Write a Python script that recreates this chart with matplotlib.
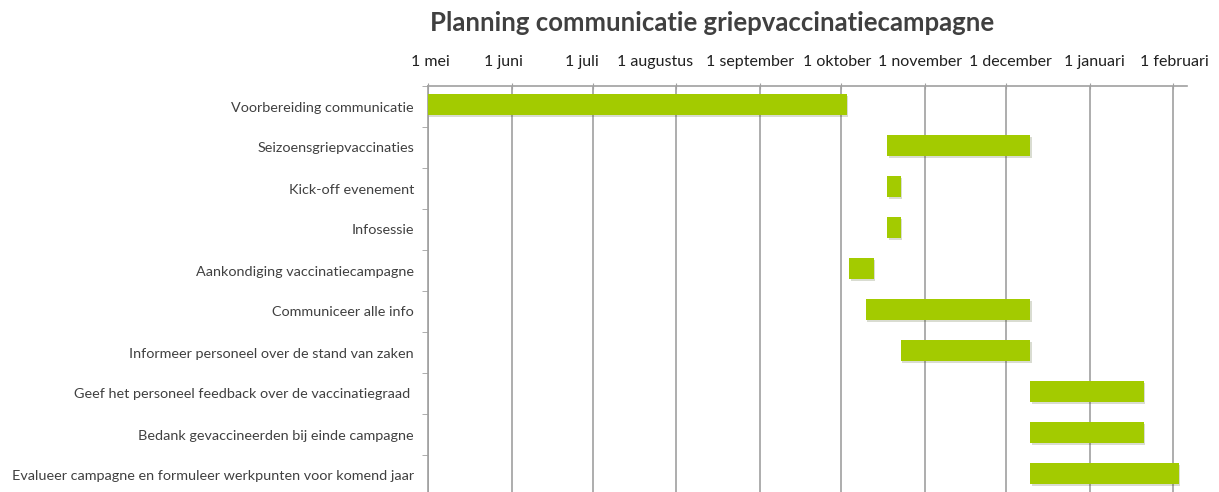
from datetime import date

import matplotlib

matplotlib.use("Agg")
import matplotlib.dates as mdates
import matplotlib.patheffects as pe
import matplotlib.pyplot as plt
import matplotlib.transforms as mtransforms
import numpy as np

# activities and their planned periods
tasks = [
    "Voorbereiding communicatie",
    "Seizoensgriepvaccinaties",
    "Kick-off evenement",
    "Infosessie",
    "Aankondiging vaccinatiecampagne",
    "Communiceer alle info",
    "Informeer personeel over de stand van zaken",
    "Geef het personeel feedback over de vaccinatiegraad ",
    "Bedank gevaccineerden bij einde campagne",
    "Evalueer campagne en formuleer werkpunten voor komend jaar",
]
starts = [
    "2012-05-01", "2012-10-18", "2012-10-18", "2012-10-18", "2012-10-04",
    "2012-10-10", "2012-10-23", "2012-12-10", "2012-12-10", "2012-12-10",
]
ends = [
    "2012-10-03", "2012-12-10", "2012-10-23", "2012-10-23", "2012-10-13",
    "2012-12-10", "2012-12-10", "2013-01-21", "2013-01-21", "2013-02-03",
]
month_labels = [
    "1 mei", "1 juni", "1 juli", "1 augustus", "1 september",
    "1 oktober", "1 november", "1 december", "1 januari", "1 februari",
]
month_starts = [
    "2012-05-01", "2012-06-01", "2012-07-01", "2012-08-01", "2012-09-01",
    "2012-10-01", "2012-11-01", "2012-12-01", "2013-01-01", "2013-02-01",
]

BAR = "#a3cb00"
GRID = "#a0a0a0"
TEXT = "#404040"

plt.rcParams["font.family"] = ["Lato", "DejaVu Sans"]

start_num = mdates.datestr2num(starts)
end_num = mdates.datestr2num(ends)
ticks = mdates.datestr2num(month_starts)
y = np.arange(len(tasks))

W, H = 1219, 492
fig = plt.figure(figsize=(W / 100, H / 100), dpi=100)
# plot area: x 428..1187 px, y 86..496 px (runs just past the bottom edge)
ax = fig.add_axes([428 / W, -4 / H, (1187 - 428) / W, (496 - 86) / H])

bars = ax.barh(y - 0.05, end_num - start_num, left=start_num, height=0.5,
               color=BAR, edgecolor="none", zorder=3)
for b in bars:
    b.set_path_effects([pe.SimplePatchShadow(offset=(1, -1.5), alpha=0.18),
                        pe.Normal()])

ax.set_xlim(ticks[0], mdates.date2num(date(2013, 2, 6)))
ax.set_ylim(len(tasks) - 0.5, -0.5)

ax.xaxis.tick_top()
ax.set_xticks(ticks)
ax.set_xticklabels(month_labels, fontsize=11.5, color="#202020")
ax.tick_params(axis="x", length=5, color=GRID, pad=10, direction="inout")
ax.grid(axis="x", color=GRID, linewidth=1.2, zorder=0)

# the month labels in the original sit a little off their gridlines
nudge_px = [2, -8, -11, -21, -10, -4, -5, 4, 5, 1]
for lab, dx in zip(ax.get_xticklabels(), nudge_px):
    lab.set_transform(lab.get_transform()
                      + mtransforms.ScaledTranslation(dx / 100, 0, fig.dpi_scale_trans))

ax.set_yticks(y)
ax.set_yticklabels(tasks, fontsize=10.4, color=TEXT)
ax.set_yticks(np.arange(len(tasks) + 1) - 0.5, minor=True)
ax.tick_params(axis="y", which="major", length=0, pad=10)
ax.tick_params(axis="y", which="minor", length=4, color=GRID)

for side in ("right", "bottom"):
    ax.spines[side].set_visible(False)
for side in ("top", "left"):
    ax.spines[side].set_color(GRID)
    ax.spines[side].set_linewidth(1.2)

fig.text(712 / W, 1 - 23 / H, "Planning communicatie griepvaccinatiecampagne",
         ha="center", va="center", fontsize=18.5, fontweight="bold", color=TEXT)

fig.savefig("out.png", dpi=100)
